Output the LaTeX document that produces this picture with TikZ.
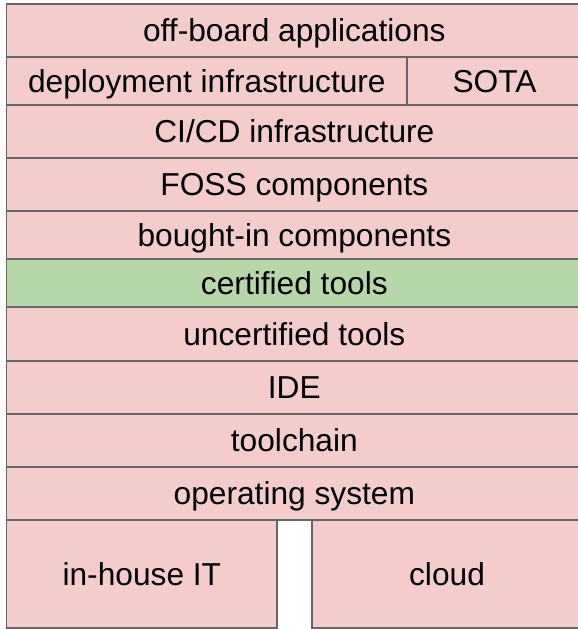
\documentclass[tikz,border=0pt]{standalone}
\usepackage{fontspec}
\setmainfont{Liberation Sans}
\definecolor{layerpink}{HTML}{F4CCCC}
\definecolor{layergreen}{HTML}{B6D7A8}
\definecolor{layerline}{HTML}{666666}
\tikzset{
  layer/.style={draw=layerline, line width=1.5pt, fill=layerpink,
    inner sep=0pt, outer sep=0pt, text=black,
    font=\fontsize{31.7}{38}\selectfont,
    text height=28.7pt, text depth=6.7pt},
  certified/.style={layer, fill=layergreen},
}
% box from (x1,y1) to (x2,y2), y pointing down
\newcommand{\layerbox}[7][layer]{%
  \node[#1, minimum width={#4-#2}, minimum height={#5-#3}]
    (#6) at ({(#2+#4)/2},{(#3+#5)/2}) {#7};}
\begin{document}
\begin{tikzpicture}[x=1pt, y=-1pt]
  \useasboundingbox (0,0) rectangle (578,629);
  \clip (0,0) rectangle (578,629);
  \fill[white] (0,0) rectangle (578,629);
  \layerbox{6.7}{4}{582}{57}{offboard}{off-board applications}
  \layerbox{6.7}{57}{407}{105}{deploy}{deployment infrastructure}
  \layerbox{407}{57}{582}{105}{sota}{SOTA}
  \layerbox{6.7}{105}{582}{158}{cicd}{CI/CD infrastructure}
  \layerbox{6.7}{158}{582}{211}{foss}{FOSS components}
  \layerbox{6.7}{211}{582}{259}{bought}{bought-in components}
  \layerbox[certified]{6.7}{259}{582}{307}{cert}{certified tools}
  \layerbox{6.7}{307}{582}{361}{uncert}{uncertified tools}
  \layerbox{6.7}{361}{582}{414}{ide}{IDE}
  \layerbox{6.7}{414}{582}{467}{toolchain}{toolchain}
  \layerbox{6.7}{467}{582}{520}{os}{operating system}
  \layerbox{6.7}{520}{277}{628}{inhouse}{in-house IT}
  \layerbox{312}{520}{582}{628}{cloud}{cloud}
\end{tikzpicture}
\end{document}
